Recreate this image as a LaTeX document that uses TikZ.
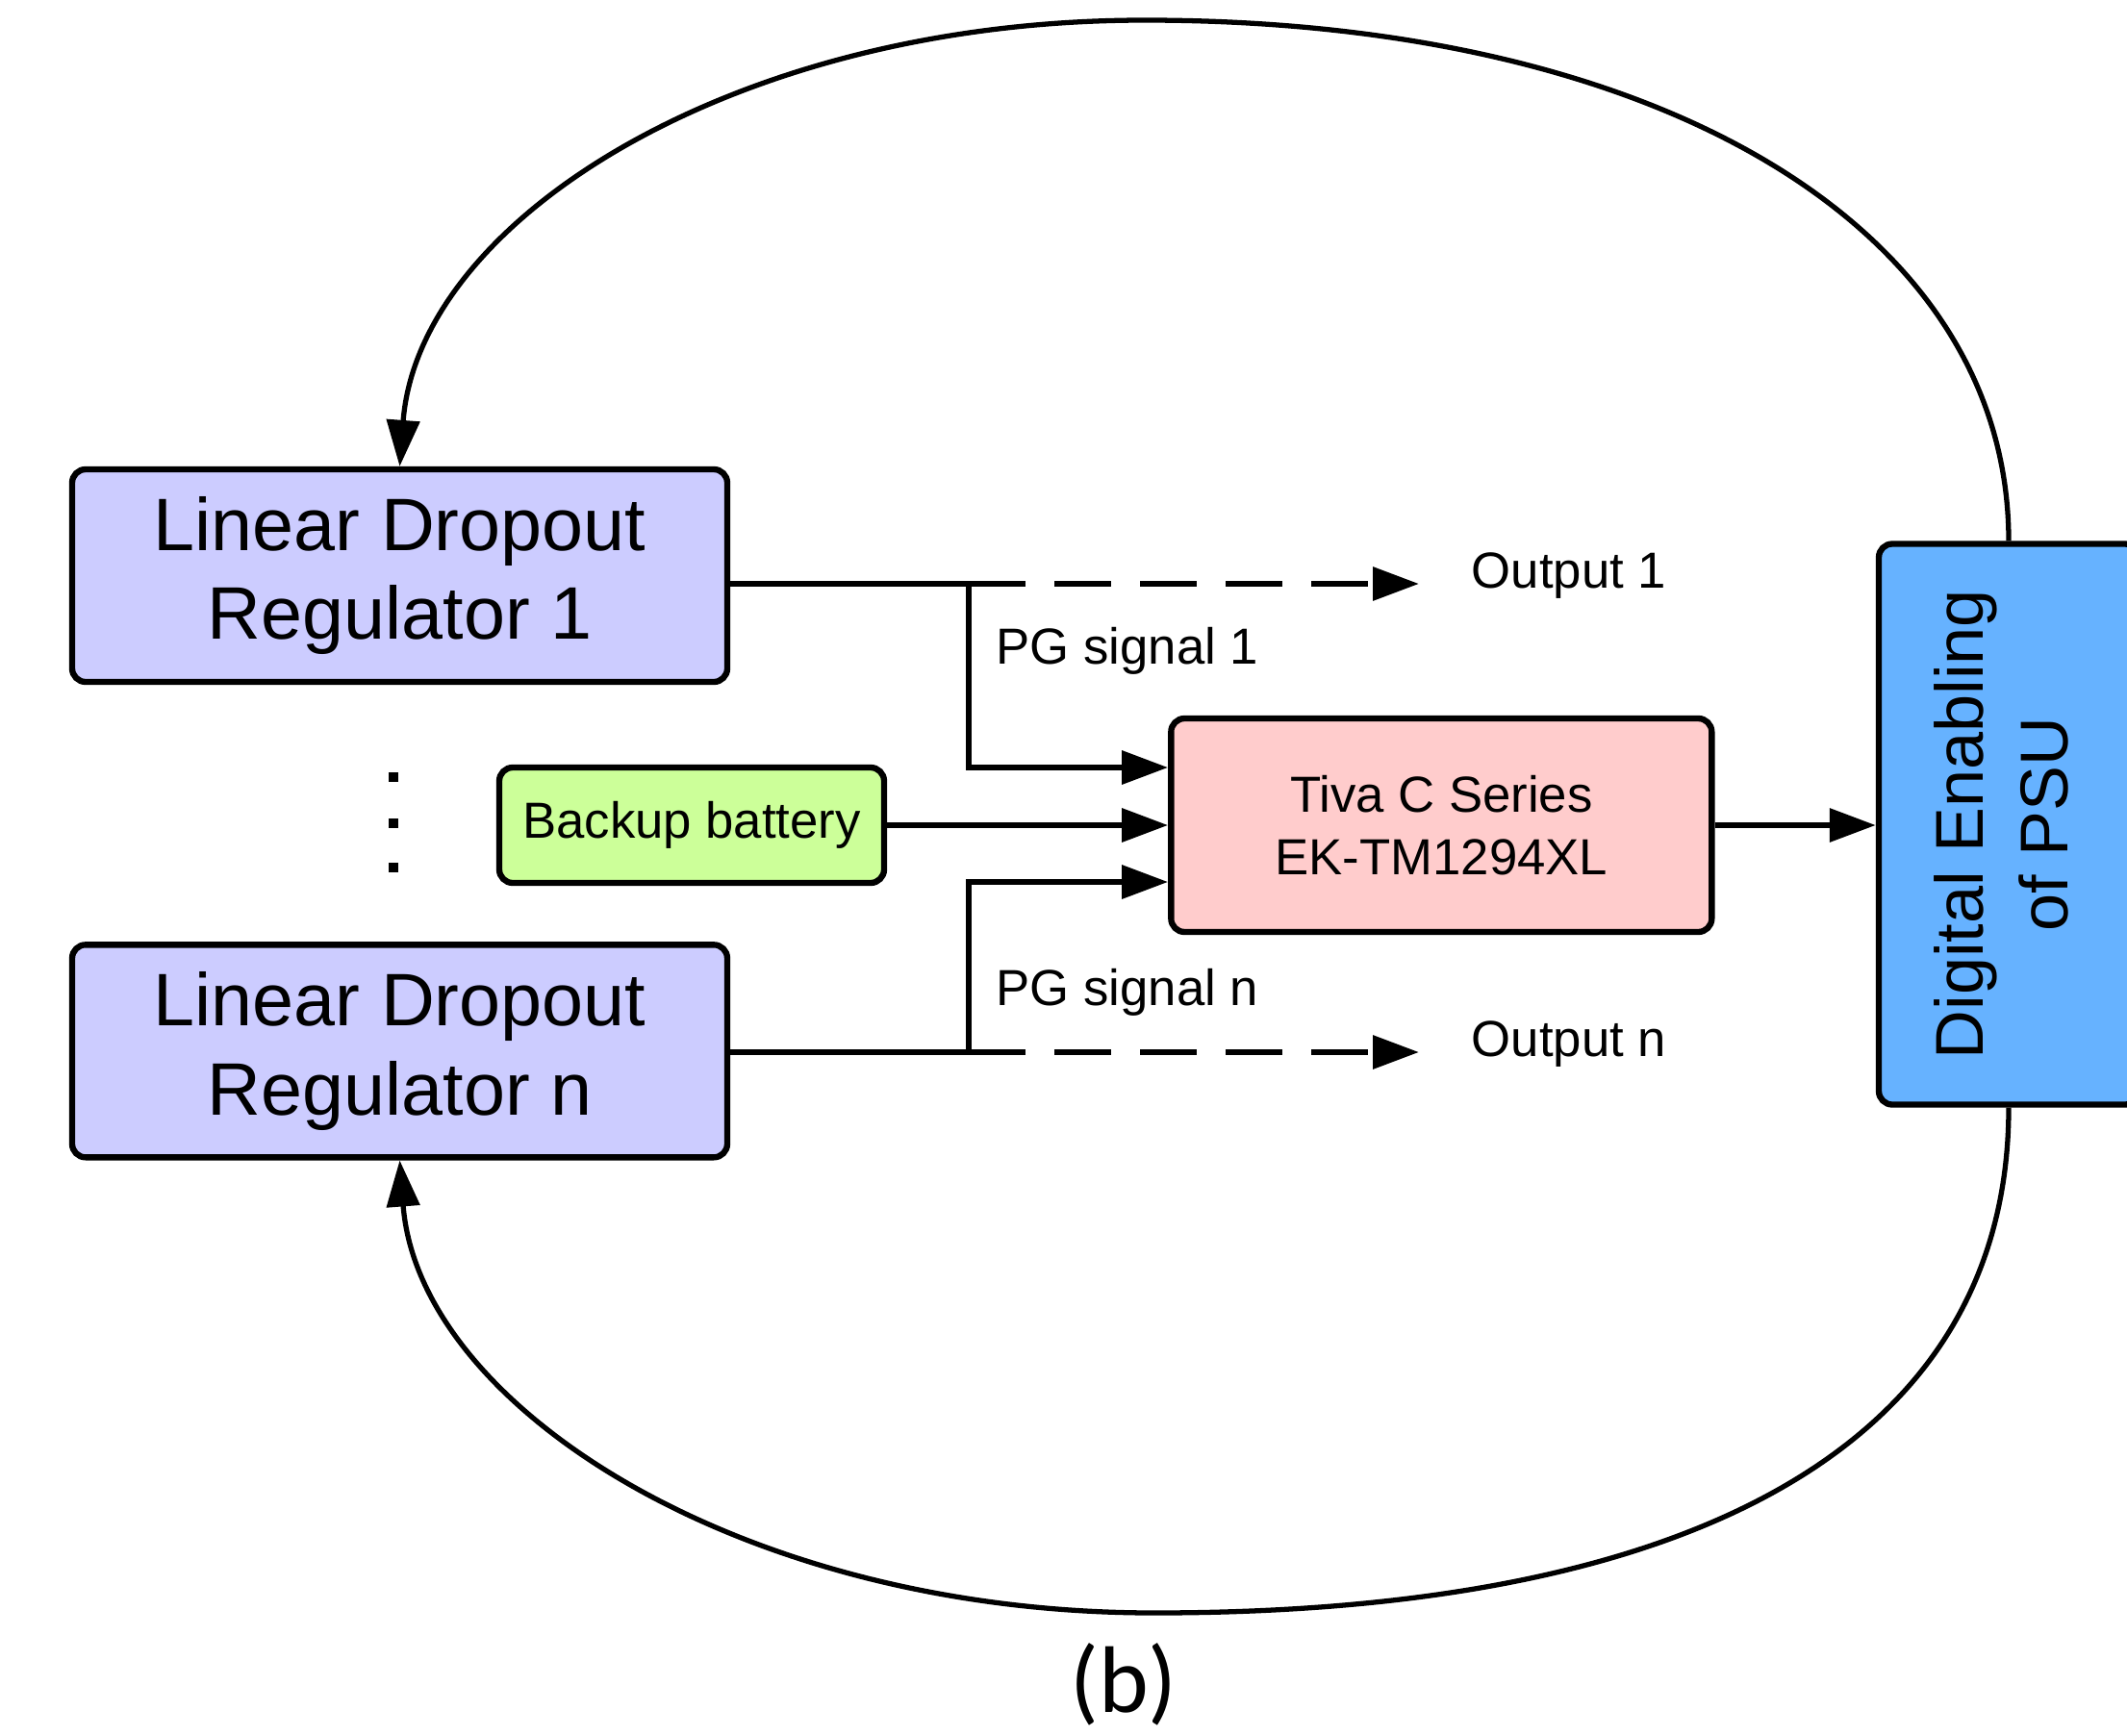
\documentclass[tikz,border=0pt]{standalone}
\usepackage{fontspec}
\setmainfont{Liberation Sans}
\newfontfamily\capfont{Carlito}
\usepackage{graphicx}
\usetikzlibrary{positioning}
\usetikzlibrary{arrows.meta}

\definecolor{ldofill}{RGB}{204,204,255}
\definecolor{batfill}{RGB}{204,255,153}
\definecolor{tivafill}{RGB}{255,204,204}
\definecolor{psufill}{RGB}{102,178,255}

\begin{document}
\begin{tikzpicture}[
        block/.style = {
            draw,
            rectangle,
            rounded corners = 1.4mm,
            line width = 1.8pt,
            inner sep = 0pt,
            align = center
        },
        ldo/.style = {block, fill=ldofill, minimum width=6.81cm, minimum height=2.21cm,
            font=\fontsize{22}{26.4}\selectfont},
        sig/.style = {line width=1.8pt, ->},
        loop/.style = {line width=1.5pt, ->},
        outline/.style = {dash pattern=on 5.9mm off 3mm},
        txt/.style = {inner sep=0pt, anchor=base west, font=\fontsize{15}{18}\selectfont},
        >={Triangle[length=4.8mm, width=3.4mm]}
        ]
        \useasboundingbox (0,0) rectangle (22.11,-18.04);
%
        \node[ldo] (ldo1) at (4.155,-5.985) {Linear Dropout\\Regulator 1};
        \node[ldo, below=2.67cm of ldo1] (ldon) {Linear Dropout\\Regulator n};
%
        \node[block, fill=batfill, minimum width=4.0cm, minimum height=1.2cm,
              font=\fontsize{15}{18}\selectfont] (bat) at (7.19,-8.58) {Backup battery};
        \node[block, fill=tivafill, minimum width=5.62cm, minimum height=2.22cm,
              font=\fontsize{15}{18.4}\selectfont, right=2.92cm of bat] (tiva) {Tiva C Series\\EK-TM1294XL};
%
        \node[block, fill=psufill, minimum width=2.7cm, minimum height=5.83cm,
              font=\fontsize{20}{25}\selectfont] (psu) at (20.88,-8.57)
              {\rotatebox{90}{\begin{tabular}{@{}c@{}}Digital Enabling\\of PSU\end{tabular}}};
%
        \foreach \y in {8.08,8.56,9.02}
            \fill (4.04,-\y+0.05) rectangle ++(0.1,-0.1);
%
        \coordinate (j1) at (10.07,-6.07);
        \coordinate (jn) at (10.07,-10.94);
        \coordinate (out1) at (14.75,-6.07);
        \coordinate (outn) at (14.75,-10.94);
%
        \node[txt] (o1) at (15.29,-6.11) {Output 1};
        \node[txt] (on) at (15.29,-10.98) {Output n};
        \node[txt] (pg1) at (10.35,-6.90) {PG signal 1};
        \node[txt] (pgn) at (10.35,-10.45) {PG signal n};
%
        \draw[line width=1.8pt] (ldo1.east |- j1) -- (j1);
        \draw[line width=1.8pt] (ldon.east |- jn) -- (jn);
        \draw[sig, outline] (j1) -- (out1);
        \draw[sig, outline] (jn) -- (outn);
%
        \draw[sig] (j1) |- ([yshift=6mm]tiva.west);
        \draw[sig] (jn) |- ([yshift=-5.9mm]tiva.west);
        \draw[sig] (bat.east) -- (bat.east -| tiva.west);
        \draw[sig] (tiva.east) -- (tiva.east -| psu.west);
%
        \draw[loop] (psu.north) .. controls (20.88,-2.4) and (17.3,-0.21) .. (11.9,-0.21)
                    .. controls (7.63,-0.21) and (4.35,-2.29) .. (ldo1.north);
        \draw[loop] (psu.south) .. controls (20.88,-14.92) and (17.77,-16.77) .. (12.0,-16.77)
                    .. controls (7.68,-16.77) and (4.35,-14.61) .. (ldon.south);
%
        \node[inner sep=0pt, anchor=base, font=\fontsize{28}{30}\selectfont\capfont] (cap) at (11.68,-17.80) {(b)};
    \end{tikzpicture}
\end{document}
